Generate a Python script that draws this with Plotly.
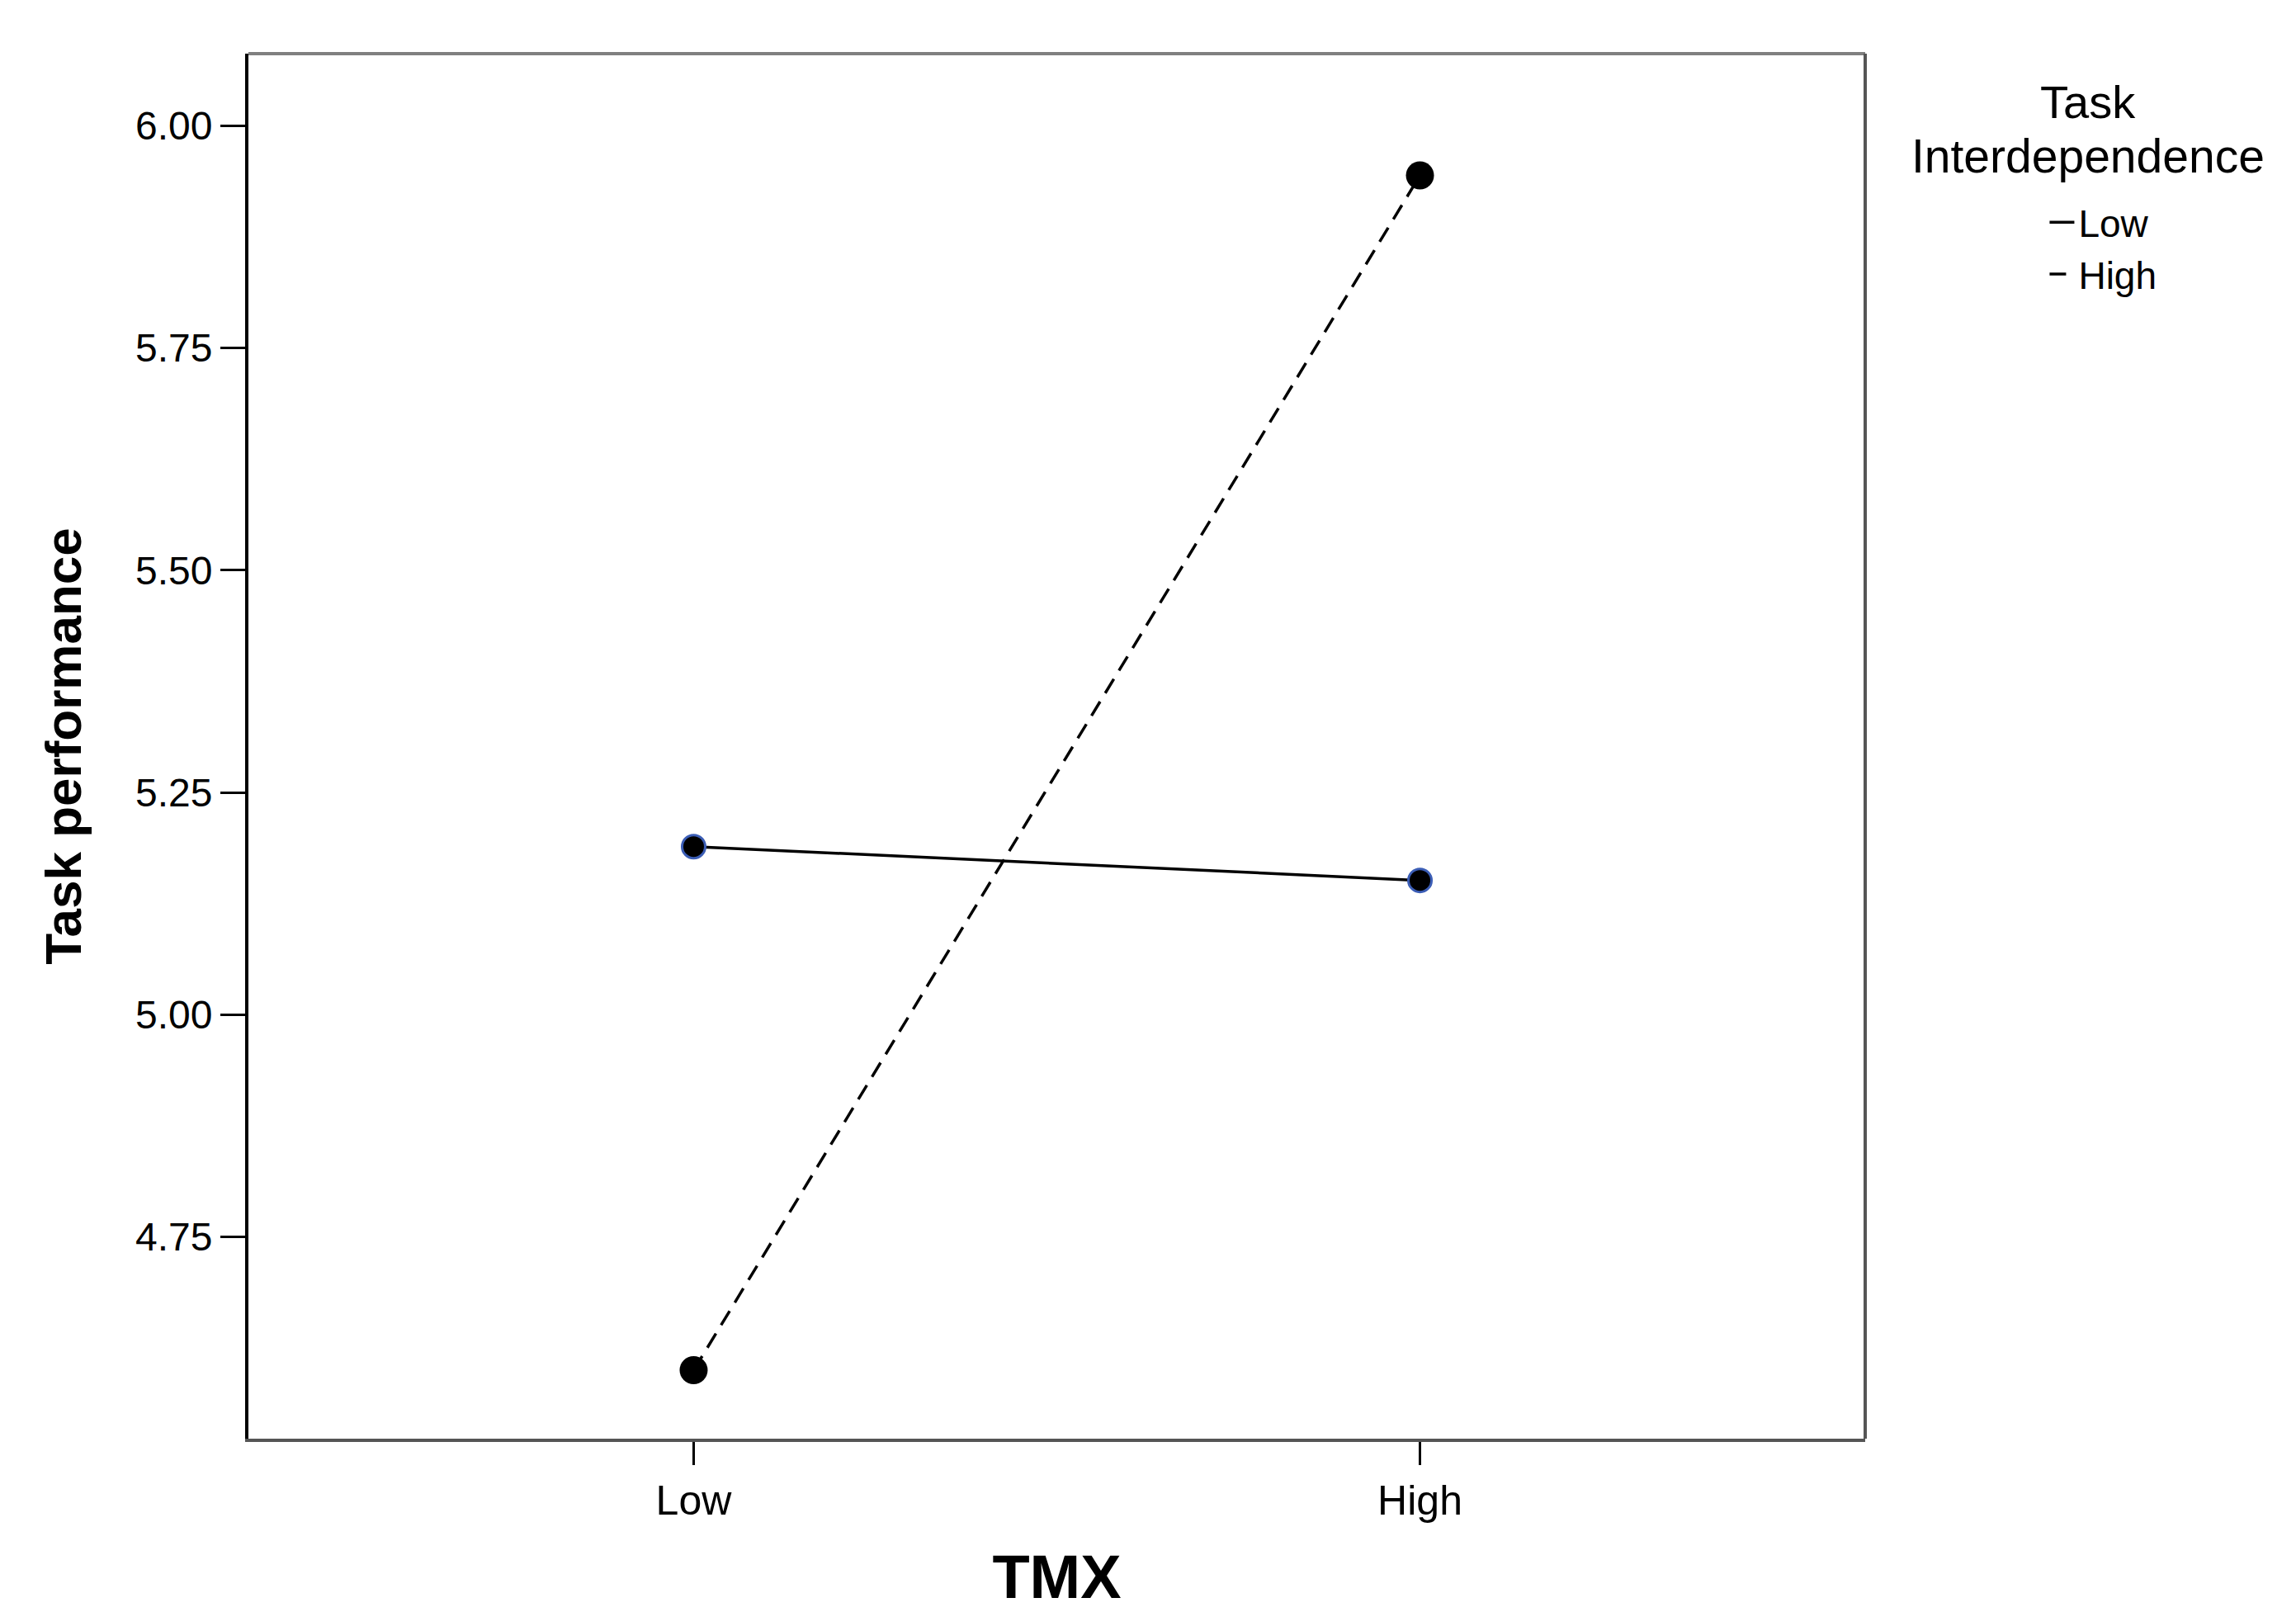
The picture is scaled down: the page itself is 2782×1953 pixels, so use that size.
import plotly.graph_objects as go

# TMX levels on the x axis
tmx_levels = ["Low", "High"]

# mean task performance by task interdependence group
low_interdep = [5.189, 5.151]
high_interdep = [4.600, 5.944]

y_ticks = [4.75, 5.00, 5.25, 5.50, 5.75, 6.00]

fnt = "Liberation Sans, Arial, sans-serif"

fig = go.Figure()

# lines (these carry the legend)
fig.add_trace(go.Scatter(
    x=tmx_levels, y=low_interdep, mode="lines", name="Low",
    line=dict(color="black", width=3.5),
))
fig.add_trace(go.Scatter(
    x=tmx_levels, y=high_interdep, mode="lines", name="High",
    line=dict(color="black", width=3.5, dash="20px,12px"),
))
# markers, kept out of the legend
fig.add_trace(go.Scatter(
    x=tmx_levels, y=low_interdep, mode="markers", showlegend=False,
    marker=dict(color="black", size=28, line=dict(color="#3b5db5", width=3)),
))
fig.add_trace(go.Scatter(
    x=tmx_levels, y=high_interdep, mode="markers", showlegend=False,
    marker=dict(color="black", size=34, line=dict(width=0)),
))

fig.update_layout(
    width=2782, height=1953,
    margin=dict(l=293, r=530, t=57, b=218),
    paper_bgcolor="white", plot_bgcolor="white",
    font=dict(family=fnt, color="black", size=46),
    legend=dict(
        font=dict(size=46, family=fnt),
        x=1.1115, xanchor="left", y=0.900, yanchor="top",
        bgcolor="rgba(0,0,0,0)",
    ),
    # legend heading, centred over the entries
    annotations=[
        dict(text="Task", xref="paper", yref="paper", x=1.138, y=0.9654,
             xanchor="center", yanchor="middle", showarrow=False,
             font=dict(size=56, family=fnt)),
        dict(text="Interdependence", xref="paper", yref="paper", x=1.138, y=0.9261,
             xanchor="center", yanchor="middle", showarrow=False,
             font=dict(size=57, family=fnt)),
    ],
    # top and right edges of the frame are lighter grey
    shapes=[
        dict(type="line", xref="paper", yref="paper", x0=0, x1=1, y0=1, y1=1,
             line=dict(color="#808080", width=4)),
        dict(type="line", xref="paper", yref="paper", x0=1, x1=1, y0=0, y1=1,
             line=dict(color="#555555", width=4)),
    ],
)

fig.update_xaxes(
    type="category", range=[-0.613, 1.613],
    showgrid=False, zeroline=False,
    showline=True, linecolor="#555555", linewidth=4,
    ticks="outside", ticklen=28, tickwidth=3, tickcolor="black",
    tickfont=dict(size=50, family=fnt),
    title=dict(text="<b>TMX</b>", font=dict(size=74, family=fnt), standoff=40),
)
fig.update_yaxes(
    range=[4.523, 6.081], tickvals=y_ticks, tickformat=".2f",
    showgrid=False, zeroline=False,
    showline=True, linecolor="black", linewidth=4,
    ticks="outside", ticklen=30, tickwidth=3, tickcolor="black",
    tickfont=dict(size=48, family=fnt),
    title=dict(text="<b>Task performance</b>", font=dict(size=62, family=fnt),
               standoff=46),
)

fig.write_html("out.html")
